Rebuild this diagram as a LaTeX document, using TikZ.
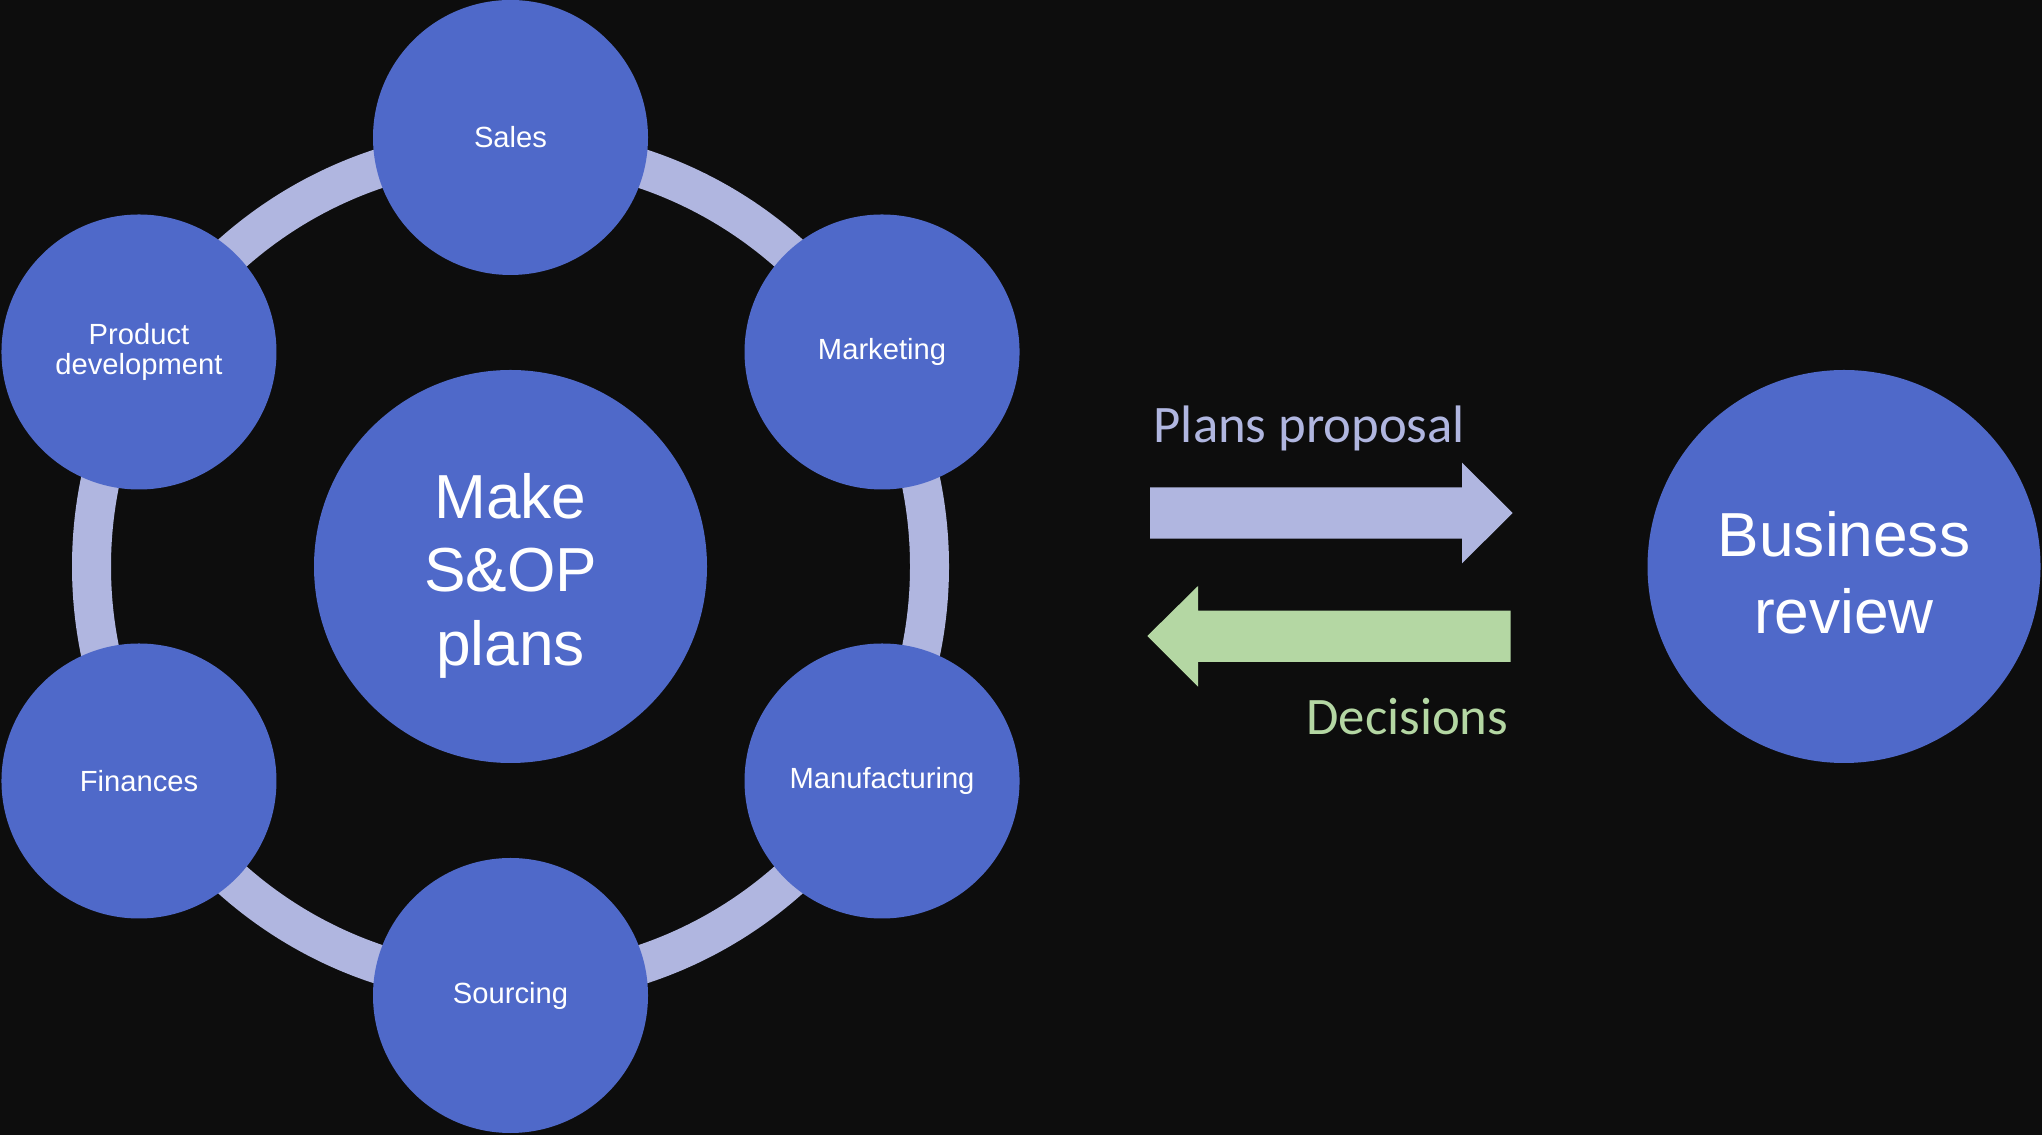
\documentclass[tikz,border=0pt]{standalone}
\usepackage{fontspec}
\setmainfont{Liberation Sans}
\newfontfamily\calibri{Carlito}
\usetikzlibrary{positioning}
\definecolor{fundo}{HTML}{0D0D0D}
\definecolor{azul}{HTML}{4F69C9}
\definecolor{lilas}{HTML}{B0B6E0}
\definecolor{verde}{HTML}{B4D7A3}

\tikzset{
	bolinha/.style={circle, fill=azul, text=white, minimum size=2.75cm, inner sep=0pt,
		align=center, font=\fontsize{8.3}{8.35}\selectfont},
	bolona/.style={circle, fill=azul, text=white, minimum size=3.93cm, inner sep=0pt,
		align=center},
	rotulo/.style={inner sep=0pt, font=\calibri\fontsize{15}{18}\selectfont}
}

\begin{document}
\begin{tikzpicture}
				%% Fundo
				\fill [fundo] (0,0) rectangle (20.42,11.35);
				\useasboundingbox (0,0) rectangle (20.42,11.35);
				
				%% Anel
				\coordinate (c) at (5.105,5.685);
				\draw [lilas, line width=0.39cm] (c) circle (4.19);
				
				%% Centro
				\node [bolona, font=\fontsize{17.7}{20.9}\selectfont] (plans) at (c)
				{\rule{0pt}{18pt}Make\\S\&OP\\plans};
				
				%% Areas
				\node [bolinha] (sales) at ([shift={(90:4.29)}]c) {Sales};
				\node [bolinha] (marketing) at ([shift={(30:4.29)}]c) {Marketing};
				\node [bolinha] (manufacturing) at ([shift={(-30:4.29)}]c) {Manufacturing};
				\node [bolinha] (sourcing) at ([shift={(-90:4.29)}]c) {Sourcing};
				\node [bolinha] (finances) at ([shift={(-150:4.29)}]c) {Finances};
				\node [bolinha] (product) at ([shift={(150:4.29)}]c) {Product\\development};
				
				%% Revisao
				\node [bolona, font=\fontsize{17.7}{21.8}\selectfont] (review) at (18.44,5.685)
				{\rule{0pt}{16.4pt}Business\\review};
				
				%% Setas
				\fill [lilas] (11.50,6.477) -- (14.62,6.477) -- (14.62,6.723) -- (15.127,6.22)
				-- (14.62,5.717) -- (14.62,5.963) -- (11.50,5.963) -- cycle;
				
				\fill [verde] (15.107,5.243) -- (11.98,5.243) -- (11.98,5.49) -- (11.473,4.99)
				-- (11.98,4.483) -- (11.98,4.73) -- (15.107,4.73) -- cycle;
				
				\node [rotulo, text=lilas, anchor=base west] (proposal) at (11.53,6.923) {Plans proposal};
				\node [rotulo, text=verde, anchor=base east] (decisions) at (15.09,4.003) {Decisions};
			\end{tikzpicture}
\end{document}
